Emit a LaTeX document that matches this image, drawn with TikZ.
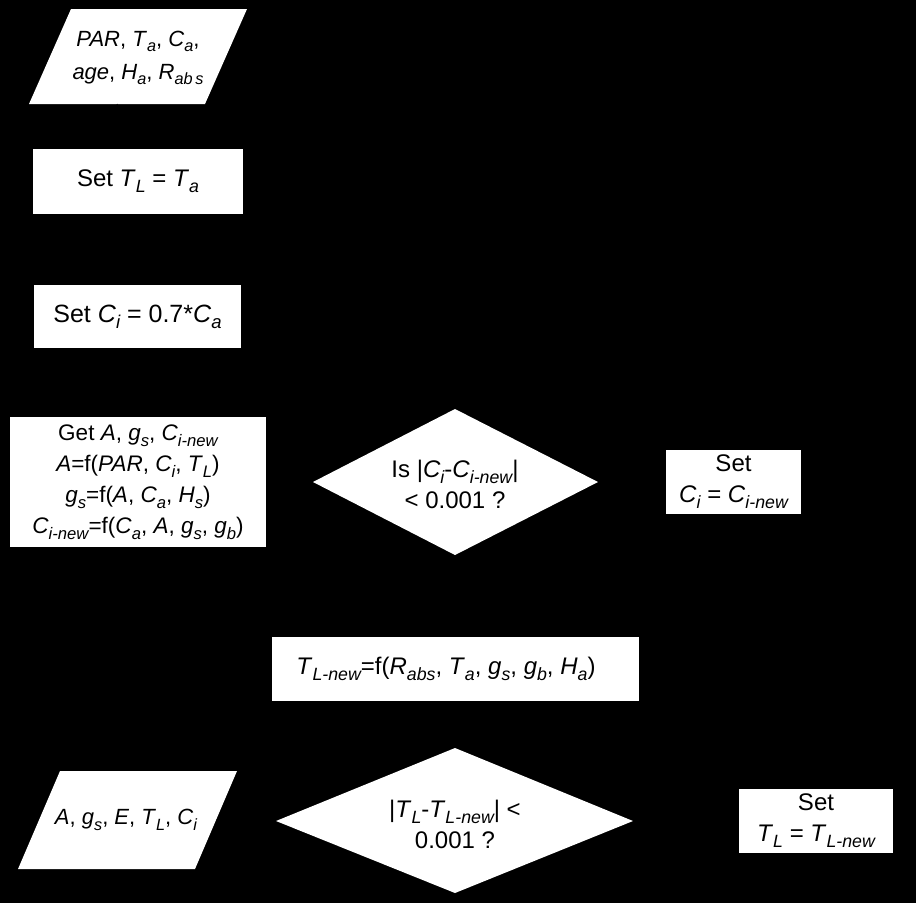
\documentclass[tikz,border=0pt]{standalone}
\usepackage{fontspec}
\setmainfont{Liberation Sans}
\usetikzlibrary{arrows.meta}
\newcommand\isub[1]{\raisebox{-0.25em}{\scalebox{0.74}{\itshape #1}}}
\newcommand\iv[2]{\textit{#1}\isub{#2}}
\tikzset{
  box/.style={fill=white, inner sep=0pt, align=center, text=black},
  shapefill/.style={fill=white},
  txt/.style={inner sep=0pt, align=center, text=black},
  conn/.style={draw=black, line width=1pt, -{Stealth[length=8pt]}},
}
\begin{document}
\begin{tikzpicture}[x=1pt,y=-1pt]
\fill[black] (0,0) rectangle (916,903);
\useasboundingbox (0,0) rectangle (916,903);

% input parallelogram
\coordinate (inpb) at (117,104);
\fill[shapefill] (71,9) -- (247,9) -- (205,104) -- (29,104) -- cycle;
\node[txt, font=\fontsize{22}{33}\selectfont] (inp) at (138,58)
  {\textit{PAR}, \iv{T}{a}, \iv{C}{a},\\ \textit{age}, \iv{H}{a}, \iv{R}{ab\,s}};

% Set TL = Ta
\node[box, minimum width=210, minimum height=65, font=\fontsize{24}{28}\selectfont] (settl) at (138,181.5)
  {Set \iv{T}{L} = \iv{T}{a}};

% Set Ci = 0.7*Ca
\node[box, minimum width=207, minimum height=63, font=\fontsize{25}{28}\selectfont] (setci) at (137.5,316.5)
  {Set \iv{C}{i} = 0.7*\iv{C}{a}};

% Get A
\node[box, minimum width=256, minimum height=130, font=\fontsize{22.5}{31}\selectfont] (geta) at (138,482)
  {Get \textit{A}, \iv{g}{s}, \iv{C}{i-new}\\
   \textit{A}=f(\textit{PAR}, \iv{C}{i}, \iv{T}{L})\\
   \iv{g}{s}=f(\textit{A}, \iv{C}{a}, \iv{H}{s})\\
   \iv{C}{i-new}=f(\iv{C}{a}, \textit{A}, \iv{g}{s}, \iv{g}{b})};

% diamond 1
\coordinate (d1l) at (313,482);
\coordinate (d1r) at (598,482);
\coordinate (d1t) at (455,409);
\coordinate (d1b) at (455,555);
\fill[shapefill] (d1l) -- (d1t) -- (d1r) -- (d1b) -- cycle;
\node[txt, font=\fontsize{24}{31}\selectfont] (d1) at (455,484)
  {Is |\iv{C}{i}-\iv{C}{i-new}|\\ \textless{} 0.001 ?};

% Set Ci = Ci-new
\node[box, minimum width=135, minimum height=64, font=\fontsize{24}{31}\selectfont] (cinew) at (733.5,482)
  {Set\\ \iv{C}{i} = \iv{C}{i-new}};

% TL-new
\node[box, minimum width=367, minimum height=64] (tlnew) at (455.5,669) {};
\node[txt, font=\fontsize{24}{28}\selectfont] (tlnewt) at (446,669)
  {\iv{T}{L-new}=f(\iv{R}{abs}, \iv{T}{a}, \iv{g}{s}, \iv{g}{b}, \iv{H}{a})};

% diamond 2
\coordinate (d2l) at (276,821);
\coordinate (d2r) at (633,821);
\coordinate (d2t) at (455,748);
\coordinate (d2b) at (455,893);
\fill[shapefill] (d2l) -- (d2t) -- (d2r) -- (d2b) -- cycle;
\node[txt, font=\fontsize{24}{31}\selectfont] (d2) at (455,824)
  {|\iv{T}{L}-\iv{T}{L-new}| \textless\\ 0.001 ?};

% Set TL = TL-new
\node[box, minimum width=154, minimum height=64, font=\fontsize{24}{31}\selectfont] (tlset) at (816,821)
  {Set\\ \iv{T}{L} = \iv{T}{L-new}};

% output parallelogram
\coordinate (outr) at (216,820);
\fill[shapefill] (60,771) -- (237,771) -- (195,869) -- (18,869) -- cycle;
\node[txt, font=\fontsize{22}{28}\selectfont] (outp) at (126,820)
  {\textit{A}, \iv{g}{s}, \textit{E}, \iv{T}{L}, \iv{C}{i}};

% connectors (black on the black ground, as in the reference)
\coordinate (loopc) at (733.5,385);
\draw[conn] (inpb) -- (settl);
\draw[conn] (settl) -- (setci);
\draw[conn] (setci) -- (geta);
\draw[conn] (geta) -- (d1l);
\draw[conn] (d1r) -- (cinew);
\draw[conn] (cinew.north) -- (loopc) -| (geta.north);
\draw[conn] (d1b) -- (tlnew);
\draw[conn] (tlnew) -- (d2t);
\draw[conn] (d2l) -- (outr);
\draw[conn] (d2r) -- (tlset);
\draw[conn] (tlset) |- (setci);
\end{tikzpicture}
\end{document}
